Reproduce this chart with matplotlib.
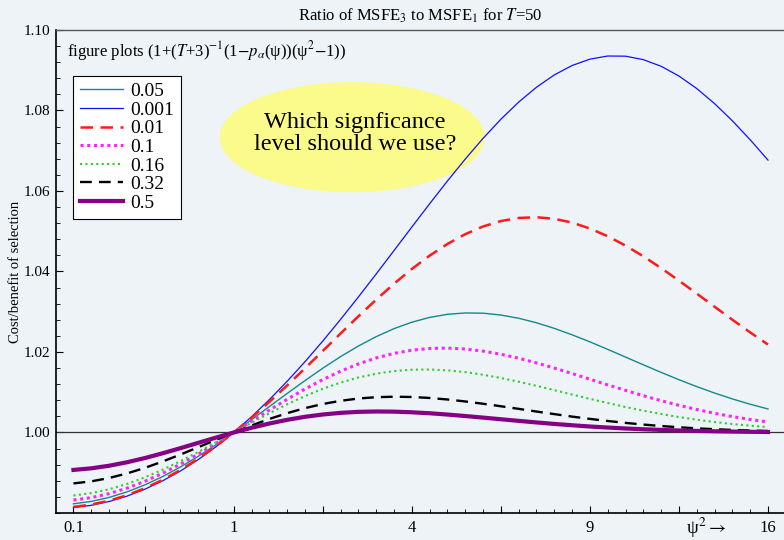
import matplotlib
matplotlib.use("Agg")
import matplotlib.pyplot as plt
from matplotlib.patches import Ellipse

plt.rcParams['font.family'] = ['Liberation Serif', 'DejaVu Serif']
plt.rcParams['mathtext.fontset'] = 'stix'

# x values are psi (axis ticks are labelled psi^2)
psi = [0.1, 0.2, 0.3, 0.4, 0.5, 0.6, 0.7, 0.8, 0.9, 1.0,
       1.1, 1.2, 1.3, 1.4, 1.5, 1.6, 1.7, 1.8, 1.9, 2.0,
       2.1, 2.2, 2.3, 2.4, 2.5, 2.6, 2.7, 2.8, 2.9, 3.0,
       3.1, 3.2, 3.3, 3.4, 3.5, 3.6, 3.7, 3.8, 3.9, 4.0]

r_0001 = [0.98134, 0.98191, 0.98286, 0.98418, 0.98589, 0.98797, 0.99042, 0.99325, 0.99645, 1.0,
          1.00391, 1.00815, 1.01272, 1.01758, 1.02272, 1.02810, 1.03367, 1.03939, 1.04520, 1.05104,
          1.05682, 1.06248, 1.06792, 1.07307, 1.07781, 1.08208, 1.08577, 1.08883, 1.09117, 1.09275,
          1.09353, 1.09349, 1.09263, 1.09098, 1.08856, 1.08545, 1.08171, 1.07744, 1.07273, 1.06768]
r_001 = [0.98151, 0.98210, 0.98306, 0.98441, 0.98613, 0.98822, 0.99067, 0.99347, 0.99658, 1.0,
         1.00368, 1.00760, 1.01170, 1.01594, 1.02026, 1.02459, 1.02887, 1.03301, 1.03696, 1.04062,
         1.04394, 1.04684, 1.04927, 1.05118, 1.05253, 1.05330, 1.05348, 1.05309, 1.05215, 1.05068,
         1.04876, 1.04643, 1.04377, 1.04084, 1.03773, 1.03451, 1.03125, 1.02802, 1.02487, 1.02185]
r_005 = [0.98228, 0.98288, 0.98387, 0.98524, 0.98697, 0.98904, 0.99141, 0.99406, 0.99694, 1.0,
         1.00319, 1.00644, 1.00970, 1.01289, 1.01597, 1.01885, 1.02148, 1.02381, 1.02580, 1.02740,
         1.02859, 1.02936, 1.02970, 1.02964, 1.02918, 1.02838, 1.02726, 1.02587, 1.02427, 1.02252,
         1.02065, 1.01874, 1.01682, 1.01493, 1.01311, 1.01140, 1.00980, 1.00834, 1.00702, 1.00585]
r_01 = [0.98322, 0.98382, 0.98481, 0.98616, 0.98786, 0.98986, 0.99213, 0.99461, 0.99725, 1.0,
        1.00279, 1.00556, 1.00825, 1.01079, 1.01313, 1.01523, 1.01703, 1.01852, 1.01966, 1.02044,
        1.02088, 1.02097, 1.02074, 1.02022, 1.01944, 1.01845, 1.01729, 1.01601, 1.01464, 1.01324,
        1.01183, 1.01046, 1.00914, 1.00790, 1.00675, 1.00571, 1.00477, 1.00395, 1.00323, 1.00262]
r_016 = [0.98435, 0.98494, 0.98590, 0.98721, 0.98884, 0.99074, 0.99286, 0.99515, 0.99755, 1.0,
         1.00243, 1.00479, 1.00701, 1.00905, 1.01086, 1.01240, 1.01366, 1.01461, 1.01526, 1.01560,
         1.01565, 1.01544, 1.01500, 1.01435, 1.01354, 1.01261, 1.01159, 1.01052, 1.00943, 1.00836,
         1.00732, 1.00633, 1.00542, 1.00459, 1.00384, 1.00318, 1.00260, 1.00211, 1.00169, 1.00134]
r_032 = [0.98735, 0.98786, 0.98870, 0.98982, 0.99120, 0.99278, 0.99451, 0.99633, 0.99818, 1.0,
         1.00174, 1.00336, 1.00480, 1.00605, 1.00708, 1.00787, 1.00844, 1.00877, 1.00889, 1.00882,
         1.00858, 1.00820, 1.00771, 1.00714, 1.00652, 1.00587, 1.00521, 1.00457, 1.00395, 1.00338,
         1.00286, 1.00239, 1.00197, 1.00161, 1.00130, 1.00103, 1.00082, 1.00064, 1.00049, 1.00037]
r_05 = [0.99070, 0.99110, 0.99174, 0.99260, 0.99364, 0.99483, 0.99610, 0.99742, 0.99873, 1.0,
        1.00118, 1.00223, 1.00315, 1.00390, 1.00447, 1.00488, 1.00513, 1.00522, 1.00518, 1.00502,
        1.00478, 1.00446, 1.00409, 1.00370, 1.00329, 1.00289, 1.00250, 1.00213, 1.00180, 1.00149,
        1.00123, 1.00100, 1.00080, 1.00064, 1.00050, 1.00039, 1.00030, 1.00023, 1.00017, 1.00012]

labels = ['0.05', '0.001', '0.01', '0.1', '0.16', '0.32', '0.5']
series = [r_005, r_0001, r_001, r_01, r_016, r_032, r_05]

xtick_pos = [0.1, 0.5, 1.0, 1.5, 2.0, 2.5, 3.0, 3.5, 4.0]
xtick_lab = ['0.1', '', '1', '', '4', '', '9', '', '16']
ytick_pos = [1.00, 1.02, 1.04, 1.06, 1.08, 1.10]
ytick_lab = ['1.00', '1.02', '1.04', '1.06', '1.08', '1.10']

styles = [
    dict(color='#138a8a', lw=1.0, ls='-'),
    dict(color='#1010ff', lw=0.9, ls='-'),
    dict(color='#ff1a1a', lw=1.8, ls=(0, (5, 3))),
    dict(color='#ff22ff', lw=2.2, ls=(0, (1, 1.2))),
    dict(color='#2ecc2e', lw=1.5, ls=(0, (1, 1.6))),
    dict(color='#000000', lw=1.7, ls=(0, (5, 3))),
    dict(color='#850085', lw=3.0, ls='-'),
]

bg = '#EDF3F7'
fig = plt.figure(figsize=(7.84, 5.40), dpi=100, facecolor=bg)
ax = fig.add_axes([0.071, 0.05, 0.929, 0.8945])
ax.set_facecolor(bg)

ell = Ellipse((0.407, 0.778), 0.364, 0.228, transform=ax.transAxes,
              facecolor='#FBFB8C', edgecolor='none', zorder=1)
ax.add_patch(ell)
ax.text(0.411, 0.785, 'Which signficance\nlevel should we use?', transform=ax.transAxes,
        ha='center', va='center', fontsize=17.5, linespacing=1.05, zorder=2)

ax.axhline(1.0, color='#333333', lw=0.9, zorder=2)

handles = []
for lab, ys, st in zip(labels, series, styles):
    h, = ax.plot(psi, ys, label=lab, zorder=3, **st)
    handles.append(h)

ax.set_xlim(0, 4.09)
ax.set_ylim(0.98, 1.10)

ax.set_xticks(xtick_pos)
ax.set_xticklabels(xtick_lab, fontsize=12)
ax.set_xticks([round(0.1 * i, 1) for i in range(2, 40) if round(0.1 * i, 1) not in xtick_pos], minor=True)
ax.set_yticks(ytick_pos)
ax.set_yticklabels(ytick_lab, fontsize=11)
ax.set_yticks([0.98 + 0.004 * i for i in range(31)], minor=True)

ax.tick_params(axis='both', which='major', direction='in', length=5, width=0.8, pad=4)
ax.tick_params(axis='both', which='minor', direction='in', length=3, width=0.6)
ax.tick_params(axis='x', which='major', pad=5)

ax.spines['right'].set_visible(False)
ax.spines['top'].set_color('#555555')
ax.spines['top'].set_linewidth(1.0)
ax.spines['left'].set_linewidth(1.2)
ax.spines['bottom'].set_linewidth(1.2)

ax.set_title('Ratio of MSFE$_3$ to MSFE$_1$ for $T$=50', fontsize=12, pad=7)
ax.set_ylabel('Cost/benefit of selection', fontsize=10.5, labelpad=1)
ax.text(0.893, -0.031, r'ψ$^2\rightarrow$', transform=ax.transAxes, ha='center', va='center', fontsize=13.5)

ax.text(0.016, 0.982, r'figure plots (1+($T$+3)$^{-1}$(1$-p_{\alpha}$(ψ))(ψ$^{2}$$-$1))',
        transform=ax.transAxes, ha='left', va='top', fontsize=12)

leg = ax.legend(handles=handles, loc='upper left', bbox_to_anchor=(0.024, 0.905),
                borderaxespad=0, fontsize=14, labelspacing=0.05, handlelength=2.2,
                handletextpad=0.4, borderpad=0.35, fancybox=False, framealpha=1,
                edgecolor='black', facecolor='white')
leg.get_frame().set_linewidth(0.8)
leg.set_zorder(5)

fig.savefig('out.png', dpi=100, facecolor=bg)
